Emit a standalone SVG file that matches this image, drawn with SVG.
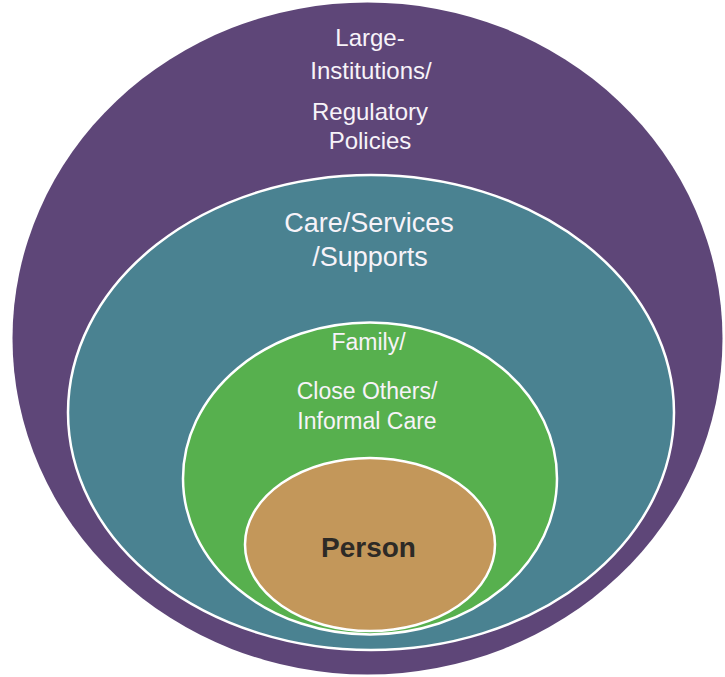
<svg xmlns="http://www.w3.org/2000/svg" width="725" height="677" viewBox="0 0 725 677">
  <style>
    .lbl { font-family: "Liberation Sans", Arial, sans-serif; fill: #f7f3f9; text-anchor: middle; }
    .ring { stroke: #ffffff; stroke-width: 2.5; }
    .person { font-family: "Liberation Sans", Arial, sans-serif; font-weight: bold; fill: #2d2a26; text-anchor: middle; }
  </style>
  <rect width="725" height="677" fill="#ffffff"/>
  <g id="institutions">
    <ellipse cx="367.5" cy="338.5" rx="355" ry="336" fill="#5e4678"/>
    <text class="lbl" font-size="24" x="370" y="46">Large-</text>
    <text class="lbl" font-size="24" x="371" y="79">Institutions/</text>
    <text class="lbl" font-size="24" x="370" y="120">Regulatory</text>
    <text class="lbl" font-size="24" x="370" y="149">Policies</text>
  </g>
  <g id="care-services">
    <ellipse class="ring" cx="371" cy="412.5" rx="303" ry="237.5" fill="#4a8291"/>
    <text class="lbl" font-size="27" x="369" y="232">Care/Services</text>
    <text class="lbl" font-size="27" x="370" y="266">/Supports</text>
  </g>
  <g id="family">
    <ellipse class="ring" cx="370" cy="478.5" rx="187" ry="156" fill="#57b04e"/>
    <text class="lbl" font-size="23" x="368.5" y="350">Family/</text>
    <text class="lbl" font-size="23" x="367" y="399">Close Others/</text>
    <text class="lbl" font-size="23" x="367" y="429">Informal Care</text>
  </g>
  <g id="person">
    <ellipse class="ring" cx="370" cy="544.5" rx="125" ry="86.5" fill="#c3975a"/>
    <text class="person" font-size="28" x="368.5" y="557">Person</text>
  </g>
</svg>
